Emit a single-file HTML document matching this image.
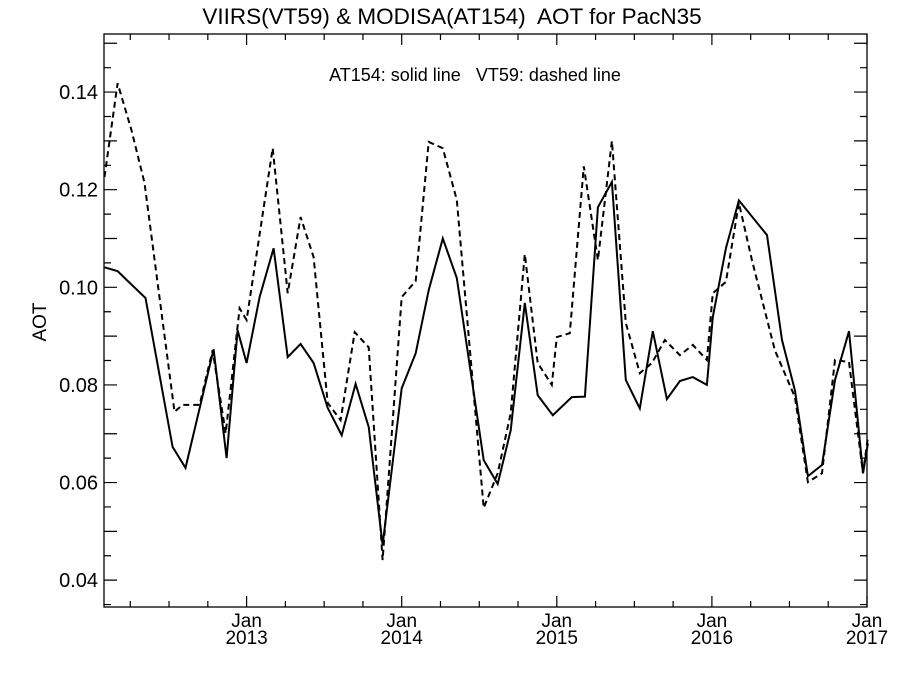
<!DOCTYPE html>
<html><head><meta charset="utf-8"><style>
body{margin:0;background:#fff;}
svg text{font-family:"Liberation Sans",sans-serif;fill:#000;white-space:pre;}
</style></head><body>
<svg id="chart" width="900" height="675" viewBox="0 0 900 675" xmlns="http://www.w3.org/2000/svg" xml:space="preserve">
<text x="452" y="24" font-size="22.5" text-anchor="middle">VIIRS(VT59) &amp; MODISA(AT154)  AOT for PacN35</text>
<text x="475" y="81" font-size="18" text-anchor="middle">AT154: solid line   VT59: dashed line</text>
<text x="0" y="0" font-size="19" text-anchor="middle" transform="translate(46,322) rotate(-90)">AOT</text>
<g id="axes"></g>
<g id="series"></g>
</svg>
<script>
const solidX=[2012.084,2012.168,2012.348,2012.523,2012.606,2012.787,2012.871,2012.942,2013.0,2013.084,2013.174,2013.265,2013.348,2013.432,2013.523,2013.613,2013.703,2013.787,2013.877,2014.0,2014.09,2014.174,2014.265,2014.355,2014.529,2014.619,2014.703,2014.794,2014.877,2014.974,2015.097,2015.181,2015.265,2015.355,2015.445,2015.535,2015.619,2015.71,2015.794,2015.877,2015.968,2016.006,2016.09,2016.174,2016.355,2016.452,2016.535,2016.619,2016.71,2016.794,2016.884,2016.974,2017.006];
const solidY=[0.1041,0.1033,0.0978,0.0673,0.0630,0.0873,0.0650,0.0912,0.0845,0.0980,0.1080,0.0857,0.0884,0.0845,0.0753,0.0697,0.0802,0.0714,0.0472,0.0793,0.0865,0.0994,0.1100,0.1019,0.0646,0.0597,0.0707,0.0968,0.0779,0.0738,0.0775,0.0776,0.1164,0.1216,0.0810,0.0752,0.0910,0.0771,0.0808,0.0816,0.0800,0.0939,0.1080,0.1178,0.1107,0.0892,0.0789,0.0613,0.0636,0.0810,0.0910,0.0619,0.0680];
const dashX=[2012.084,2012.168,2012.258,2012.342,2012.535,2012.587,2012.697,2012.781,2012.865,2012.955,2013.0,2013.168,2013.265,2013.348,2013.432,2013.523,2013.606,2013.697,2013.787,2013.877,2014.0,2014.09,2014.174,2014.265,2014.355,2014.529,2014.619,2014.703,2014.794,2014.877,2014.968,2015.0,2015.084,2015.174,2015.265,2015.355,2015.445,2015.535,2015.613,2015.697,2015.794,2015.877,2015.968,2016.006,2016.09,2016.174,2016.258,2016.406,2016.535,2016.619,2016.71,2016.794,2016.884,2016.974,2017.006];
const dashY=[0.1226,0.1418,0.1322,0.1214,0.0745,0.0759,0.0759,0.0871,0.0701,0.0957,0.0933,0.1285,0.0988,0.1144,0.1062,0.0763,0.0728,0.0908,0.0877,0.0441,0.0980,0.1013,0.1298,0.1285,0.1179,0.0548,0.0619,0.0742,0.1068,0.0845,0.0800,0.0898,0.0906,0.1248,0.1056,0.1300,0.0927,0.0824,0.0845,0.0892,0.0861,0.0882,0.0851,0.0988,0.1011,0.1173,0.1056,0.0871,0.0775,0.0601,0.0619,0.0851,0.0847,0.0619,0.0693];
const yTicks=[0.04,0.06,0.08,0.10,0.12,0.14];
const yTickLabels=["0.04","0.06","0.08","0.10","0.12","0.14"];
const xTicks=[2013,2014,2015,2016,2017];
const xTickLabels=["2013","2014","2015","2016","2017"];

const L=104,R=867,T=34,B=607;
const X0=2012.0806,X1=2017.0;
const Y0=0.0345,Y1=0.1519;
const sx=v=>L+(v-X0)/(X1-X0)*(R-L);
const sy=v=>B-(v-Y0)/(Y1-Y0)*(B-T);
const NS="http://www.w3.org/2000/svg";
const axes=document.getElementById('axes'),ser=document.getElementById('series');
function mk(tag,attrs,parent){const e=document.createElementNS(NS,tag);for(const k in attrs)e.setAttribute(k,attrs[k]);parent.appendChild(e);return e;}
const frame=mk('rect',{x:L,y:T,width:R-L,height:B-T,fill:'none',stroke:'#000','stroke-width':1.3},axes);


for(let v=0.035;v<=0.1519;v+=0.005){
  const y=sy(v);const major=Math.abs(v*100-Math.round(v*100))<1e-6;const len=major?13:7;
  const t=mk('path',{d:`M${L} ${y}h${len}M${R} ${y}h${-len}`,stroke:'#000','stroke-width':1.2},axes);
  
  
}
yTicks.forEach((v,i)=>{
  const t=mk('text',{x:L-6,y:sy(v)+7,'font-size':20,'text-anchor':'end'},axes);t.textContent=yTickLabels[i];
  
  
});
for(let m=3;m<=60;m+=3){
  const v=2012+m/12;if(v<X0-1e-6)continue;const x=sx(v);const major=m%12===0;const len=major?11:6;
  const t=mk('path',{d:`M${x} ${B}v${-len}M${x} ${T}v${len}`,stroke:'#000','stroke-width':1.2},axes);
  
  
}
xTicks.forEach((v,i)=>{
  const x=sx(v);
  const a=mk('text',{x:x,y:B+20,'font-size':19,'text-anchor':'middle'},axes);a.textContent='Jan';
  
  
  const b=mk('text',{x:x,y:B+37,'font-size':19,'text-anchor':'middle'},axes);b.textContent=xTickLabels[i];
  
  
});
function line(xs,ys,dash,name){
  const d=xs.map((v,i)=>(i?'L':'M')+sx(v).toFixed(1)+' '+sy(ys[i]).toFixed(1)).join('');
  const p=mk('path',{d:d,fill:'none',stroke:'#000','stroke-width':2,'stroke-linejoin':'miter'},ser);
  if(dash)p.setAttribute('stroke-dasharray','6 4');
  
  
}
line(solidX,solidY,false,'at154-solid-line');
line(dashX,dashY,true,'vt59-dashed-line');
</script>
</body></html>
